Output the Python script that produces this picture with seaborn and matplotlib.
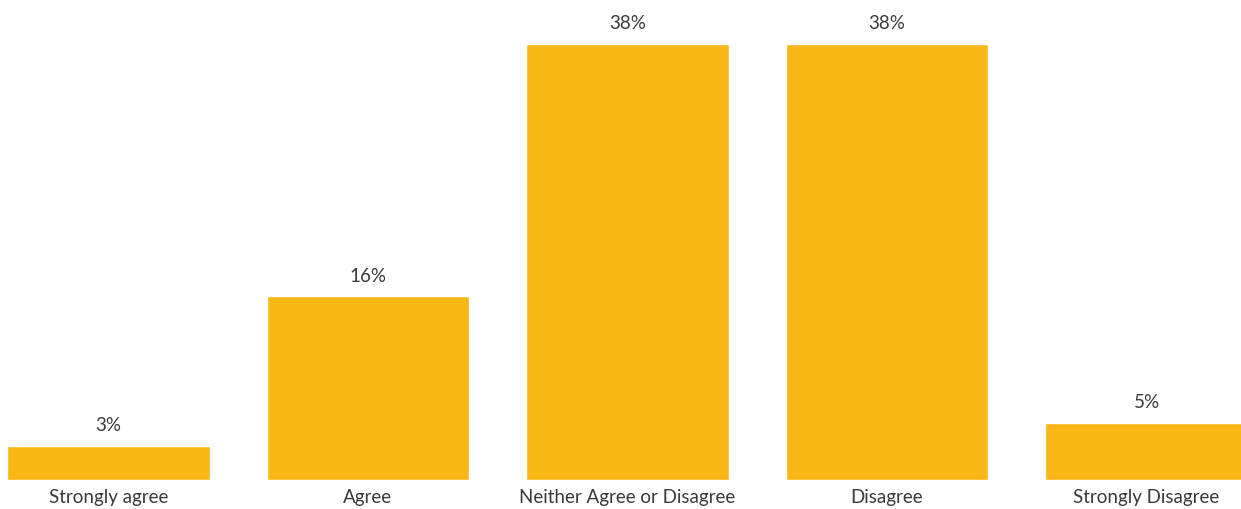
import matplotlib
matplotlib.use("Agg")
import matplotlib.pyplot as plt
import seaborn as sns
import pandas as pd

categories = ["Strongly agree", "Agree", "Neither Agree or Disagree", "Disagree", "Strongly Disagree"]
values = [3, 16, 38, 38, 5]
value_labels = ["3%", "16%", "38%", "38%", "5%"]

sns.set_style("white")
plt.rcParams["font.family"] = ["Lato", "DejaVu Sans"]

df = pd.DataFrame({"category": categories, "value": values})

fig = plt.figure(figsize=(12.41, 5.09), dpi=100)
bottom_px, top_px = 29, 509 - 21
ax = fig.add_axes([0, bottom_px / 509, 1, (top_px - bottom_px) / 509])

sns.barplot(data=df, x="category", y="value", color="#F9B715", saturation=1,
            width=0.782, ax=ax)

ax.set_xlim(-0.418, 4.364)
ax.set_ylim(0, 40)
ax.axis("off")

text_color = "#3a3a3a"
for i, (v, lab) in enumerate(zip(values, value_labels)):
    ax.annotate(lab, (i, v), xytext=(0, 20), textcoords="offset pixels",
                ha="center", va="center", fontsize=13.5, color=text_color)
    ax.annotate(categories[i], (i, 0), xytext=(0, -17), textcoords="offset pixels",
                ha="center", va="center", fontsize=13.5, color=text_color)

fig.savefig("out.png", dpi=100)
